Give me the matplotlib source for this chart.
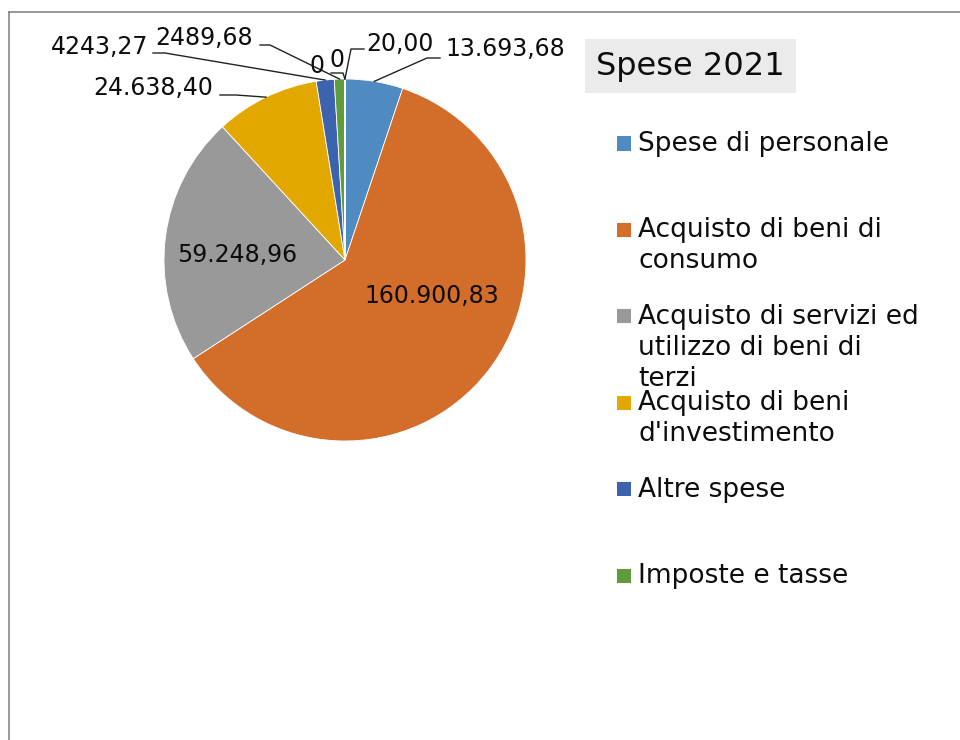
import textwrap
import matplotlib
matplotlib.use('Agg')
import numpy as np
import matplotlib.pyplot as plt
from matplotlib.patches import Rectangle
from matplotlib.lines import Line2D

W, H = 960, 740

# Spese 2021 (euro)
categorie = ['Spese di personale', 'Acquisto di beni di consumo',
             'Acquisto di servizi ed utilizzo di beni di terzi',
             "Acquisto di beni d'investimento", 'Altre spese', 'Imposte e tasse',
             '', '', '']
valori = [13693.68, 160900.83, 59248.96, 24638.40, 4243.27, 2489.68, 0, 0, 20.00]
etichette = ['13.693,68', '160.900,83', '59.248,96', '24.638,40', '4243,27',
             '2489,68', '0', '0', '20,00']
colori = ['#4f8ac0', '#d36d2a', '#999999', '#e2a800', '#3c63ad', '#629a3e',
          '#2a5a8a', '#8c4318', '#606060']
n_legenda = 6

# pie centre / radius in pixels (from the top-left corner)
cx, cy, R = 345, 260, 181


def to_data(px, py):
    return (px - cx) / R, (cy - py) / R


fig = plt.figure(figsize=(W / 100, H / 100), dpi=100)
ax = fig.add_axes([0, 0, 600 / W, 1])
wedges, _ = ax.pie(valori, colors=colori, startangle=90, counterclock=False,
                   wedgeprops=dict(edgecolor='white', linewidth=0.6))
ax.set_xlim(-cx / R, (600 - cx) / R)
ax.set_ylim(-(H - cy) / R, cy / R)
ax.set_aspect('auto')
ax.axis('off')

#---- data labels ----
dentro = {1: (432, 296), 2: (237, 255)}
fuori = {
    0: ((445, 49), 'left', [(427, 58), (440, 58)]),
    3: ((213, 88), 'right', [(236, 95), (220, 95)]),
    4: ((148, 47), 'right', [(165, 53), (153, 53)]),
    5: ((253, 38), 'right', [(270, 45), (260, 45)]),
    6: ((317, 66), 'center', []),
    7: ((337, 60), 'center', [(343, 73), (331, 73)]),
    8: ((366, 44), 'left', [(351, 49), (364, 49)]),
}
txt_col = '#0d0d0d'

for i, (px, py) in dentro.items():
    x, y = to_data(px, py)
    ax.text(x, y, etichette[i], fontsize=17, ha='center', va='center', color=txt_col)

for i, ((px, py), ha, guida) in fuori.items():
    x, y = to_data(px, py)
    ax.text(x, y, etichette[i], fontsize=17, ha=ha, va='center', color=txt_col)
    if guida:
        w = wedges[i]
        th = np.deg2rad((w.theta1 + w.theta2) / 2)
        xs = [np.cos(th)] + [to_data(*p)[0] for p in guida]
        ys = [np.sin(th)] + [to_data(*p)[1] for p in guida]
        ax.plot(xs, ys, color='#222222', lw=1)

#---- title ----
fig.text(596 / W, 1 - 66 / H, 'Spese 2021', fontsize=23, ha='left', va='center',
         color=txt_col,
         bbox=dict(boxstyle='square,pad=0.35', facecolor='#ebebeb', edgecolor='none'))

#---- legend (first six categories) ----
leg_top = 143
leg_step = 86.4
for i in range(n_legenda):
    yc = leg_top + i * leg_step
    fig.add_artist(Rectangle((617 / W, 1 - (yc + 7.5) / H), 14 / W, 14 / H,
                             transform=fig.transFigure, facecolor=colori[i],
                             edgecolor='none'))
    fig.text(638 / W, 1 - (yc - 12) / H, textwrap.fill(categorie[i], 22),
             fontsize=19, ha='left', va='top', linespacing=1.25, color=txt_col)

#---- chart frame ----
fig.add_artist(Line2D([8.5 / W, 8.5 / W], [0, 1 - 11.5 / H], color='#878787', lw=1.2))
fig.add_artist(Line2D([8.5 / W, 1], [1 - 11.5 / H, 1 - 11.5 / H], color='#878787', lw=1.2))

fig.savefig('out.png', dpi=100)
